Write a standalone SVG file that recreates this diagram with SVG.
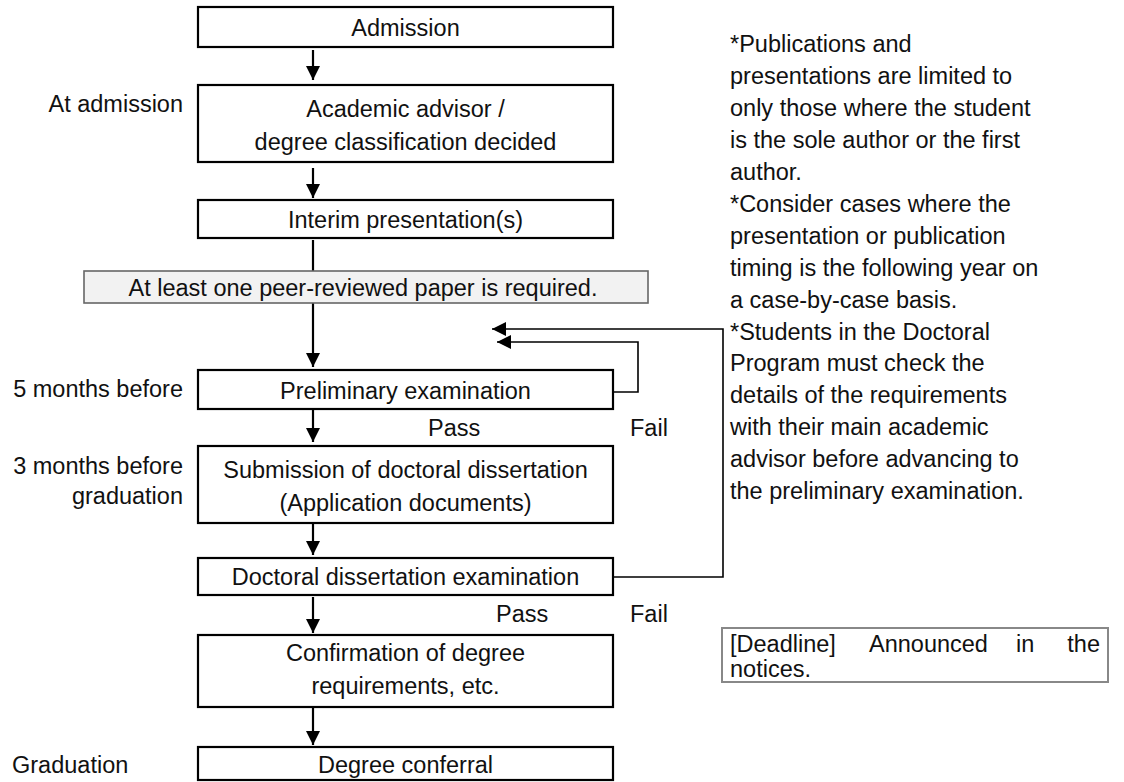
<svg xmlns="http://www.w3.org/2000/svg" width="1124" height="782" viewBox="0 0 1124 782">
<defs>
<marker id="ah" viewBox="0 0 14 14" refX="14" refY="7" markerWidth="14" markerHeight="14" markerUnits="userSpaceOnUse" orient="auto">
<path d="M0,0 L14,7 L0,14 z" fill="#000"/>
</marker>
</defs>
<style>
text{font-family:"Liberation Sans",Arial,sans-serif;font-size:23.5px;fill:#111}
.c{text-anchor:middle}
.r{text-anchor:end}
.box{fill:#fff;stroke:#000;stroke-width:2.2}
.gbox{fill:#f2f2f2;stroke:#666;stroke-width:1.6}
.dbox{fill:#fff;stroke:#888;stroke-width:2}
.ln{fill:none;stroke:#000;stroke-width:2.2}
.fb{fill:none;stroke:#000;stroke-width:1.6}
</style>
<rect width="1124" height="782" fill="#fff"/>
<g id="connectors">
<line class="ln" x1="313" y1="50" x2="313" y2="80" marker-end="url(#ah)"/>
<line class="ln" x1="313" y1="168" x2="313" y2="198" marker-end="url(#ah)"/>
<line class="ln" x1="313" y1="240" x2="313" y2="271"/>
<line class="ln" x1="313" y1="303" x2="313" y2="367" marker-end="url(#ah)"/>
<line class="ln" x1="313" y1="410" x2="313" y2="442" marker-end="url(#ah)"/>
<line class="ln" x1="313" y1="524" x2="313" y2="555" marker-end="url(#ah)"/>
<line class="ln" x1="313" y1="597" x2="313" y2="633" marker-end="url(#ah)"/>
<line class="ln" x1="313" y1="708" x2="313" y2="745" marker-end="url(#ah)"/>
<polyline class="fb" points="613,392 638,392 638,342 497,342" marker-end="url(#ah)"/>
<polyline class="fb" points="613,577 723,577 723,329 492,329" marker-end="url(#ah)"/>
</g>
<g id="admission"><rect class="box" x="198" y="7" width="415" height="40"/><text class="c" x="405.5" y="36">Admission</text></g>
<g id="advisor"><rect class="box" x="198" y="85" width="415" height="77"/><text class="c" x="405.5" y="117">Academic advisor /</text><text class="c" x="405.5" y="150">degree classification decided</text></g>
<g id="interim"><rect class="box" x="198" y="200" width="415" height="38"/><text class="c" x="405.5" y="228">Interim presentation(s)</text></g>
<g id="paper"><rect class="gbox" x="84" y="271" width="564" height="32"/><text class="c" x="363" y="296">At least one peer-reviewed paper is required.</text></g>
<g id="prelim"><rect class="box" x="198" y="370" width="415" height="39"/><text class="c" x="405.5" y="399">Preliminary examination</text></g>
<g id="submission"><rect class="box" x="198" y="446" width="415" height="77"/><text class="c" x="405.5" y="478">Submission of doctoral dissertation</text><text class="c" x="405.5" y="511">(Application documents)</text></g>
<g id="dissertation"><rect class="box" x="198" y="558" width="415" height="37"/><text class="c" x="405.5" y="585">Doctoral dissertation examination</text></g>
<g id="confirmation"><rect class="box" x="198" y="635" width="415" height="72"/><text class="c" x="405.5" y="661">Confirmation of degree</text><text class="c" x="405.5" y="694">requirements, etc.</text></g>
<g id="conferral"><rect class="box" x="198" y="747" width="415" height="33"/><text class="c" x="405.5" y="773">Degree conferral</text></g>
<g id="labels">
<text class="r" x="183" y="112">At admission</text>
<text class="r" x="183" y="397">5 months before</text>
<text class="r" x="183" y="474">3 months before</text>
<text class="r" x="183" y="504">graduation</text>
<text x="12" y="773">Graduation</text>
<text x="428" y="436">Pass</text>
<text x="630" y="436">Fail</text>
<text x="496" y="622">Pass</text>
<text x="630" y="622">Fail</text>
</g>
<g id="notes">
<text x="730" y="52">*Publications and</text>
<text x="730" y="84">presentations are limited to</text>
<text x="730" y="116">only those where the student</text>
<text x="730" y="148">is the sole author or the first</text>
<text x="730" y="180">author.</text>
<text x="730" y="212">*Consider cases where the</text>
<text x="730" y="244">presentation or publication</text>
<text x="730" y="276">timing is the following year on</text>
<text x="730" y="308">a case-by-case basis.</text>
<text x="730" y="340">*Students in the Doctoral</text>
<text x="730" y="371">Program must check the</text>
<text x="730" y="403">details of the requirements</text>
<text x="730" y="435">with their main academic</text>
<text x="730" y="467">advisor before advancing to</text>
<text x="730" y="499">the preliminary examination.</text>
</g>
<g id="deadline">
<rect class="dbox" x="722" y="628" width="386" height="54"/>
<text x="730" y="652">[Deadline]</text>
<text x="869" y="652">Announced</text>
<text x="1016" y="652">in</text>
<text class="r" x="1100" y="652">the</text>
<text x="730" y="677">notices.</text>
</g>
</svg>
